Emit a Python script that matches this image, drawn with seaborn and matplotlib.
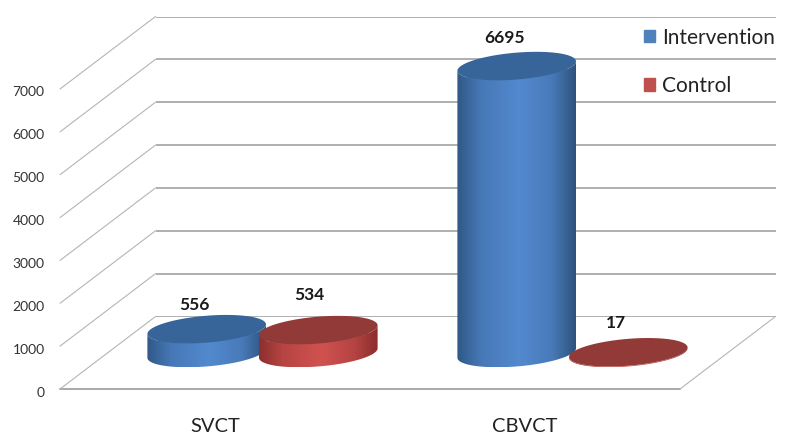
import numpy as np
import pandas as pd
import matplotlib
matplotlib.use('Agg')
import matplotlib.pyplot as plt
import seaborn as sns
from matplotlib.patches import ConnectionPatch, PathPatch, Patch
from matplotlib.path import Path
from matplotlib.transforms import ScaledTranslation

categories = ['SVCT', 'CBVCT']
intervention = [556, 6695]
control = [534, 17]
y_ticks = [0, 1000, 2000, 3000, 4000, 5000, 6000, 7000]

W, H = 800, 448
Y_MAX = 7000

sns.set_theme(style='white')
plt.rcParams['font.family'] = ['Lato', 'DejaVu Sans']

df = pd.DataFrame({
    'cat': categories * 2,
    'group': ['Intervention'] * 2 + ['Control'] * 2,
    'val': intervention + control,
})


def place(dx, dy):
    # front plane is 60..680 px wide, 89..389 px tall, other planes are shifted back
    left = (60 + dx) / W
    bottom = 1 - (389 - dy) / H
    a = fig.add_axes([left, bottom, 620 / W, 300 / H])
    a.set_facecolor('none')
    a.set_xlim(-0.5, 1.5)
    a.set_ylim(0, Y_MAX)
    sns.despine(ax=a, left=True, bottom=True)
    return a


fig = plt.figure(figsize=(W / 100, H / 100), dpi=100, facecolor='white')
wall = '#a9a9a9'

# back wall
ax_back = place(95.5, 72.5)
ax_back.set_xticks([])
ax_back.set_yticks(y_ticks)
ax_back.tick_params(left=False, labelleft=False)
ax_back.grid(axis='y', color=wall, lw=1.3)
ax_back.grid(axis='x', visible=False)
for s in ax_back.spines.values():
    s.set_visible(False)

# front plane with the tick labels
ax = place(0, 0)
ax.set_xticks([0, 1])
ax.set_xticklabels(categories, fontsize=14.5, color='#222222')
ax.tick_params(axis='x', length=0, pad=21)
ax.set_yticks(y_ticks)
ax.set_yticklabels([str(t) for t in y_ticks], fontsize=10, color='#333333')
ax.tick_params(axis='y', length=0, pad=11)
for lab in ax.get_yticklabels():
    lab.set_transform(lab.get_transform() + ScaledTranslation(0, -2.5 / 100, fig.dpi_scale_trans))
ax.axhline(0, color=wall, lw=1.4, clip_on=False)
for s in ax.spines.values():
    s.set_visible(False)

# diagonal lines joining front and back
for t in y_ticks:
    con = ConnectionPatch((-0.5, t), (-0.5, t), 'data', 'data', axesA=ax, axesB=ax_back,
                          color='#b5b5b5', lw=0.8)
    fig.add_artist(con)
con = ConnectionPatch((1.5, 0), (1.5, 0), 'data', 'data', axesA=ax, axesB=ax_back,
                      color='#b5b5b5', lw=0.8)
fig.add_artist(con)

# bars sit half way back
ax_mid = place(47.5, 36)
ax_mid.set_zorder(3)
palette = {'Intervention': '#4f81bd', 'Control': '#c0504d'}
sns.barplot(data=df, x='cat', y='val', hue='group', order=categories,
            palette=palette, width=0.72, gap=0.1, legend=False, ax=ax_mid)
ax_mid.set_xlabel('')
ax_mid.set_ylabel('')
ax_mid.set_xticks([])
ax_mid.set_yticks([])

px_x = 2 / 620
px_y = Y_MAX / 300
A, B, TILT = 59.5, 13.4, np.radians(4.8)
T0 = np.arctan2(-B * np.sin(TILT), A * np.cos(TILT))


def ell(cx, cy, t):
    ex = A * np.cos(t) * np.cos(TILT) - B * np.sin(t) * np.sin(TILT)
    ey = A * np.cos(t) * np.sin(TILT) + B * np.sin(t) * np.cos(TILT)
    return np.column_stack([cx + ex * px_x, cy + ey * px_y])


def cylinder(a, cx, val, colors, top_color, z):
    lower = ell(cx, 0, np.linspace(T0 + np.pi, T0 + 2 * np.pi, 80))
    upper = ell(cx, val, np.linspace(T0 + 2 * np.pi, T0 + np.pi, 80))
    body = Path(np.vstack([lower, upper, lower[:1]]), closed=True)
    clip = PathPatch(body, transform=a.transData, fc='none', ec='none')
    a.add_patch(clip)
    stops = np.array([0, 0.2, 0.52, 0.8, 1.0])
    xs = np.linspace(0, 1, 256)
    rgb = np.stack([np.interp(xs, stops, [c[i] for c in colors]) for i in range(3)], axis=1) / 255
    x0, x1 = lower[:, 0].min(), lower[:, 0].max()
    y0, y1 = lower[:, 1].min(), upper[:, 1].max()
    im = a.imshow(rgb[None, :, :], extent=[x0, x1, y0, y1], aspect='auto', zorder=z,
                  interpolation='bilinear')
    im.set_clip_path(clip)
    im.set_clip_box(fig.bbox)
    cap = Path(ell(cx, val, np.linspace(0, 2 * np.pi, 120)), closed=True)
    a.add_patch(PathPatch(cap, fc=top_color, ec='none', zorder=z + 0.1, clip_on=False))


blue = [(48, 88, 135), (70, 120, 182), (82, 137, 207), (72, 122, 185), (46, 82, 125)]
red = [(140, 48, 46), (182, 68, 66), (208, 82, 80), (182, 68, 66), (138, 46, 44)]
looks = {0: (blue, '#37659a'), 1: (red, '#923a38')}

marks = []
for h, cont in enumerate(ax_mid.containers):
    for rect in cont:
        marks.append((rect.get_x() + rect.get_width() / 2, rect.get_height(), h))
        rect.set_zorder(1)
marks.sort(key=lambda m: m[0])

# label shift from the cap centre, in px
shifts = [(-12, 24), (-9, 35), (-12, 28), (-12, 29)]
for i, (cx, val, h) in enumerate(marks):
    cols, top = looks[h]
    cylinder(ax_mid, cx, val, cols, top, 2 + i)
    ax_mid.annotate(str(int(val)), (cx, val), xytext=shifts[i], textcoords='offset pixels',
                    ha='center', va='center', fontsize=12.5, fontweight='bold',
                    color='#1a1a1a', zorder=20, annotation_clip=False)

ax_mid.set_xlim(-0.5, 1.5)
ax_mid.set_ylim(0, Y_MAX)
for s in ax_mid.spines.values():
    s.set_visible(False)

handles = [Patch(color='#4f81bd', label='Intervention'), Patch(color='#c0504d', label='Control')]
fig.legend(handles=handles, loc='upper left', bbox_to_anchor=(644 / W, 1 - 27.5 / H),
           frameon=False, fontsize=15, handlelength=0.55, handleheight=0.55,
           handletextpad=0.31, labelspacing=1.35, borderpad=0, borderaxespad=0,
           labelcolor='#222222')

fig.savefig('out.png', dpi=100)
